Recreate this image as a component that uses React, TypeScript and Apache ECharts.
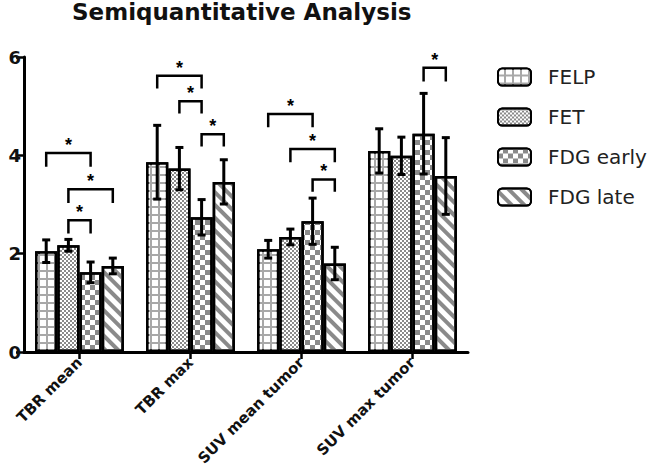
import React, { useEffect, useRef } from "react";
import * as echarts from "echarts";

const categories = ["TBR mean", "TBR max", "SUV mean tumor", "SUV max tumor"];
const seriesNames = ["FELP", "FET", "FDG early", "FDG late"];
const felpMean = [2.05, 3.86, 2.09, 4.09];
const felpSd = [0.23, 0.75, 0.18, 0.45];
const fetMean = [2.17, 3.73, 2.34, 3.99];
const fetSd = [0.12, 0.43, 0.16, 0.38];
const fdgEarlyMean = [1.62, 2.74, 2.66, 4.44];
const fdgEarlySd = [0.21, 0.36, 0.47, 0.82];
const fdgLateMean = [1.75, 3.46, 1.8, 3.58];
const fdgLateSd = [0.16, 0.45, 0.33, 0.78];
// [category, fromBar, toBar, bracketTop, legBottom]
const brackets = [
  [0, 0, 2, 4.05, 3.77],
  [0, 1, 3, 3.31, 3.03],
  [0, 1, 2, 2.68, 2.41],
  [1, 0, 2, 5.62, 5.36],
  [1, 1, 2, 5.1, 4.85],
  [1, 2, 3, 4.43, 4.18],
  [2, 0, 2, 4.84, 4.57],
  [2, 1, 3, 4.13, 3.86],
  [2, 2, 3, 3.51, 3.26],
  [3, 2, 3, 5.78, 5.5],
];
const yTicks = [0, 2, 4, 6];

const FONT = "DejaVu Sans, Verdana, sans-serif";
const STAR_FONT = "Liberation Sans, Arial, sans-serif";
const GRAY = "#8a8a8a";

const decals: any[] = [
  { symbol: "rect", symbolSize: 1, color: "#ffffff", dashArrayX: [5.5, 1.3], dashArrayY: [5.5, 1.3] },
  { symbol: "rect", symbolSize: 1, color: GRAY, dashArrayX: [[2, 2], [0, 2, 2, 0]], dashArrayY: [2, 0] },
  { symbol: "rect", symbolSize: 1, color: GRAY, dashArrayX: [[4.5, 4.5], [0, 4.5, 4.5, 0]], dashArrayY: [4.5, 0] },
  { symbol: "rect", symbolSize: 1, color: GRAY, dashArrayX: [1, 0], dashArrayY: [4, 5], rotation: Math.PI / 4 },
];
const barColors = ["#a8a8a8", "#ffffff", "#ffffff", "#ffffff"];

export default function App() {
  const ref = useRef<HTMLDivElement>(null);
  useEffect(() => {
    if (!ref.current) return;
    const chart = echarts.init(ref.current, undefined, { renderer: "svg" });
    const means = [felpMean, fetMean, fdgEarlyMean, fdgLateMean];
    const sds = [felpSd, fetSd, fdgEarlySd, fdgLateSd];

    const barSeries = seriesNames.map((name, i) => ({
      name,
      type: "bar",
      data: means[i],
      barGap: "0%",
      barCategoryGap: "20%",
      itemStyle: {
        color: barColors[i],
        borderColor: "#000",
        borderWidth: 2.5,
        decal: decals[i],
      },
      z: 2,
    }));

    const errSeries = seriesNames.map((name, i) => ({
      name: name + " err",
      type: "custom",
      z: 5,
      data: categories.map((_, c) => [c, means[i][c], sds[i][c]]),
      encode: { x: 0, y: 1 },
      renderItem: (params: any, api: any) => {
        const c = api.value(0);
        const m = api.value(1);
        const s = api.value(2);
        const band = api.size([1, 0])[0];
        const bw = (band * 0.8) / 4;
        const center = api.coord([c, m]);
        const x = center[0] + (i - 1.5) * bw;
        const hi = api.coord([c, m + s])[1];
        const lo = api.coord([c, m - s])[1];
        const cap = 4;
        const st = { stroke: "#000", lineWidth: 3, fill: "none" };
        return {
          type: "group",
          children: [
            { type: "line", shape: { x1: x, y1: hi, x2: x, y2: lo }, style: st },
            { type: "line", shape: { x1: x - cap, y1: hi, x2: x + cap, y2: hi }, style: st },
            { type: "line", shape: { x1: x - cap, y1: lo, x2: x + cap, y2: lo }, style: st },
          ],
        };
      },
    }));

    const bracketSeries = {
      name: "brackets",
      type: "custom",
      z: 6,
      data: brackets,
      encode: { x: 0, y: [3, 4] },
      renderItem: (params: any, api: any) => {
        const c = api.value(0);
        const a = api.value(1);
        const b = api.value(2);
        const top = api.value(3);
        const leg = api.value(4);
        const band = api.size([1, 0])[0];
        const bw = (band * 0.8) / 4;
        const p = api.coord([c, top]);
        const yl = api.coord([c, leg])[1];
        const xa = p[0] + (a - 1.5) * bw;
        const xb = p[0] + (b - 1.5) * bw;
        return {
          type: "group",
          children: [
            {
              type: "polyline",
              shape: { points: [[xa, yl], [xa, p[1]], [xb, p[1]], [xb, yl]] },
              style: { stroke: "#000", lineWidth: 2.5, fill: "none" },
            },
            {
              type: "text",
              style: {
                text: "*",
                x: (xa + xb) / 2,
                y: p[1] - 8,
                fill: "#000",
                font: "bold 18px " + STAR_FONT,
                textAlign: "center",
                textVerticalAlign: "middle",
              },
            },
          ],
        };
      },
    };

    chart.setOption({
      animation: false,
      title: {
        text: "Semiquantitative Analysis",
        left: 72,
        top: 0,
        padding: 0,
        textStyle: { fontFamily: FONT, fontSize: 23, fontWeight: "bold", color: "#111" },
      },
      legend: {
        data: seriesNames,
        orient: "vertical",
        left: 497,
        top: 67,
        itemWidth: 33,
        itemHeight: 17,
        itemGap: 20,
        padding: 0,
        textStyle: { fontFamily: FONT, fontSize: 20, color: "#222", padding: [0, 0, 0, 12] },
      },
      grid: { left: 24, top: 57, width: 444, height: 295, containLabel: false },
      xAxis: {
        type: "category",
        data: categories,
        axisLine: { lineStyle: { color: "#000", width: 3 } },
        axisTick: { show: true, length: 7, alignWithLabel: true, lineStyle: { color: "#000", width: 2.5 } },
        axisLabel: {
          rotate: 45,
          interval: 0,
          margin: 8,
          fontFamily: FONT,
          fontSize: 15,
          fontWeight: "bold",
          color: "#111",
        },
      },
      yAxis: {
        type: "value",
        min: yTicks[0],
        max: yTicks[yTicks.length - 1],
        interval: 2,
        splitLine: { show: false },
        axisLine: { show: true, lineStyle: { color: "#000", width: 3 } },
        axisTick: { show: true, length: 8, lineStyle: { color: "#000", width: 2.5 } },
        axisLabel: { margin: 3, fontFamily: FONT, fontSize: 18, fontWeight: "bold", color: "#111" },
      },
      series: [...barSeries, ...errSeries, bracketSeries],
    } as any);
    return () => chart.dispose();
  }, []);
  return (
    <div
      ref={ref}
      style={{ position: "fixed", left: 0, top: 0, width: 659, height: 471, background: "#fff" }}
    />
  );
}
